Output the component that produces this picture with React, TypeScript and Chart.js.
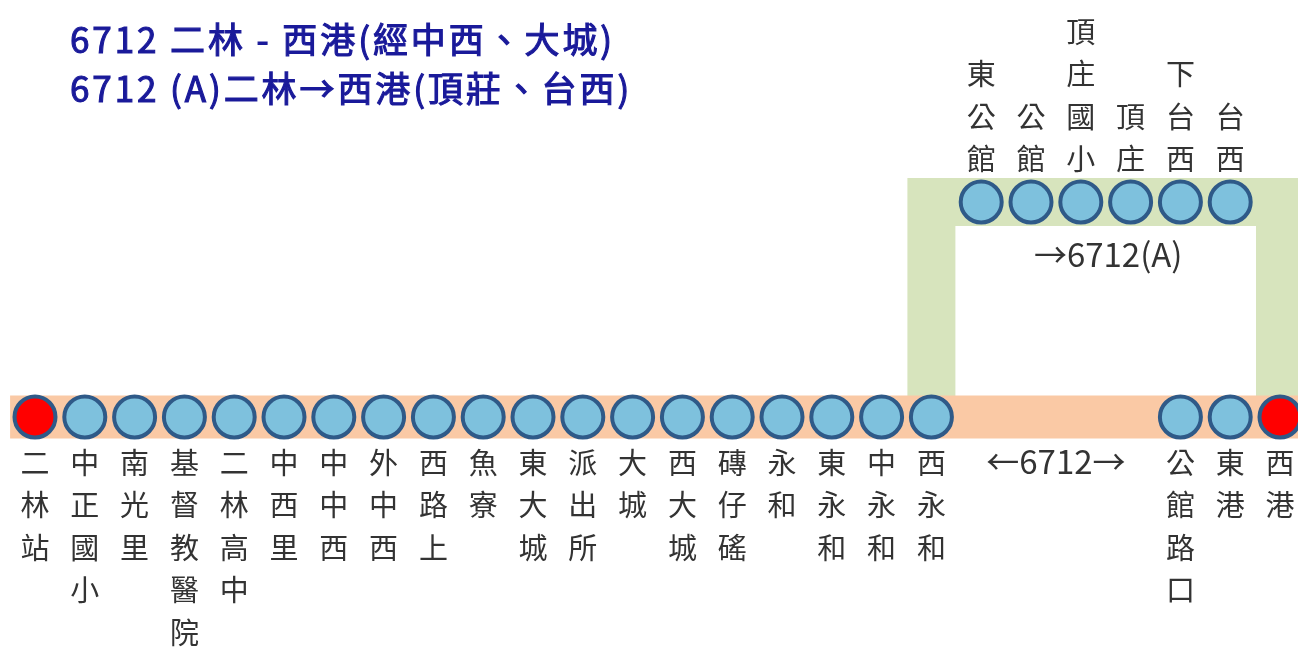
import React, { useEffect, useRef } from "react";
import { Chart, registerables } from "chart.js";

Chart.register(...registerables);

// ---- data ----
const titleLines = ["6712 二林 - 西港(經中西、大城)", "6712 (A)二林→西港(頂莊、台西)"];

const mainNames = [
  "二林站", "中正國小", "南光里", "基督教醫院", "二林高中", "中西里", "中中西", "外中西",
  "西路上", "魚寮", "東大城", "派出所", "大城", "西大城", "磚仔磘", "永和", "東永和",
  "中永和", "西永和", "公館路口", "東港", "西港",
];
const mainPos = [0, 1, 2, 3, 4, 5, 6, 7, 8, 9, 10, 11, 12, 13, 14, 15, 16, 17, 18, 23, 24, 25];
const terminals = ["二林站", "西港"];

const branchNames = ["東公館", "公館", "頂庄國小", "頂庄", "下台西", "台西"];
const branchPos = [19, 20, 21, 22, 23, 24];

const mainLevel = 0;
const branchLevel = 1;

const mainBandX = [-0.5, 25.5];
const branchBandX = [18, 18, 25, 25];
const branchBandY = [0, 1, 1, 0];

const routeLabels = [
  { text: "←6712→", x: 20.5, level: mainLevel },
  { text: "→6712(A)", x: 21.55, level: branchLevel },
];

// ---- style ----
const CJK = '"Noto Sans CJK TC", "Noto Sans", sans-serif';
const labelColor = "#333333";
const stationFill = "#7EC1DD";
const stationBorder = "#2F5A88";
const terminalFill = "#FF0000";
const titleColor = "#1A1A9A";

const labelPlugin = {
  id: "routeLabels",
  afterDatasetsDraw(chart: any) {
    const ctx = chart.ctx;
    const xs = chart.scales.x;
    const ys = chart.scales.y;
    ctx.save();
    // station names, vertical
    ctx.font = `29px ${CJK}`;
    ctx.fillStyle = labelColor;
    ctx.textAlign = "center";
    ctx.textBaseline = "middle";
    const step = 42.5;
    const drawStations = (dsIndex: number, names: string[], below: boolean) => {
      const meta = chart.getDatasetMeta(dsIndex);
      meta.data.forEach((pt: any, i: number) => {
        const chars = Array.from(names[i]);
        chars.forEach((c, k) => {
          const y = below ? pt.y + 45.5 + k * step : pt.y - 43 - (chars.length - 1 - k) * step;
          ctx.fillText(c, pt.x, y);
        });
      });
    };
    drawStations(2, mainNames, true);
    drawStations(3, branchNames, false);

    // route labels
    ctx.font = `33px ${CJK}`;
    routeLabels.forEach((r) => {
      const px = xs.getPixelForValue(r.x);
      const py = ys.getPixelForValue(r.level) + (r.level === mainLevel ? 44 : 52);
      ctx.fillText(r.text, px, py);
    });

    // title
    ctx.font = `35px ${CJK}`;
    ctx.fillStyle = titleColor;
    ctx.strokeStyle = titleColor;
    ctx.lineWidth = 1.1;
    ctx.textAlign = "left";
    (ctx as any).letterSpacing = "2.9px";
    titleLines.forEach((t, i) => {
      ctx.fillText(t, 70, 40 + i * 49);
      ctx.strokeText(t, 70, 40 + i * 49);
    });
    ctx.restore();
  },
};

export default function App() {
  const ref = useRef<HTMLCanvasElement>(null);
  useEffect(() => {
    document.body.style.margin = "0";
    const canvas = ref.current!;
    const chart = new Chart(canvas, {
      type: "scatter",
      data: {
        datasets: [
          {
            label: "branchBand",
            data: branchBandX.map((x, i) => ({ x, y: branchBandY[i] })),
            showLine: true,
            borderColor: "#D7E4BD",
            borderWidth: 48,
            borderJoinStyle: "miter",
            borderCapStyle: "butt",
            pointRadius: 0,
            tension: 0,
            order: 3,
          } as any,
          {
            label: "mainBand",
            data: mainBandX.map((x) => ({ x, y: mainLevel })),
            showLine: true,
            borderColor: "#FAC9A5",
            borderWidth: 43,
            borderCapStyle: "butt",
            pointRadius: 0,
            order: 2,
          } as any,
          {
            label: "main",
            data: mainPos.map((x) => ({ x, y: mainLevel })),
            pointRadius: 20.5,
            pointBorderWidth: 4,
            pointBackgroundColor: mainNames.map((n) => (terminals.includes(n) ? terminalFill : stationFill)),
            pointBorderColor: stationBorder,
            order: 1,
          } as any,
          {
            label: "branch",
            data: branchPos.map((x) => ({ x, y: branchLevel })),
            pointRadius: 20.5,
            pointBorderWidth: 4,
            pointBackgroundColor: stationFill,
            pointBorderColor: stationBorder,
            order: 0,
          } as any,
        ],
      },
      options: {
        animation: false,
        responsive: false,
        devicePixelRatio: 1,
        layout: { padding: 0, autoPadding: false },
        events: [],
        scales: {
          x: { type: "linear", display: false, min: -0.7028, max: 25.3614 },
          y: { type: "linear", display: false, min: -1.0884, max: 1.9395 },
        },
        plugins: { legend: { display: false }, tooltip: { enabled: false }, title: { display: false } },
      },
      plugins: [labelPlugin],
    });
    return () => chart.destroy();
  }, []);
  return (
    <div style={{ width: 1298, height: 651, background: "#fff" }}>
      <canvas ref={ref} width={1298} height={651} />
    </div>
  );
}
